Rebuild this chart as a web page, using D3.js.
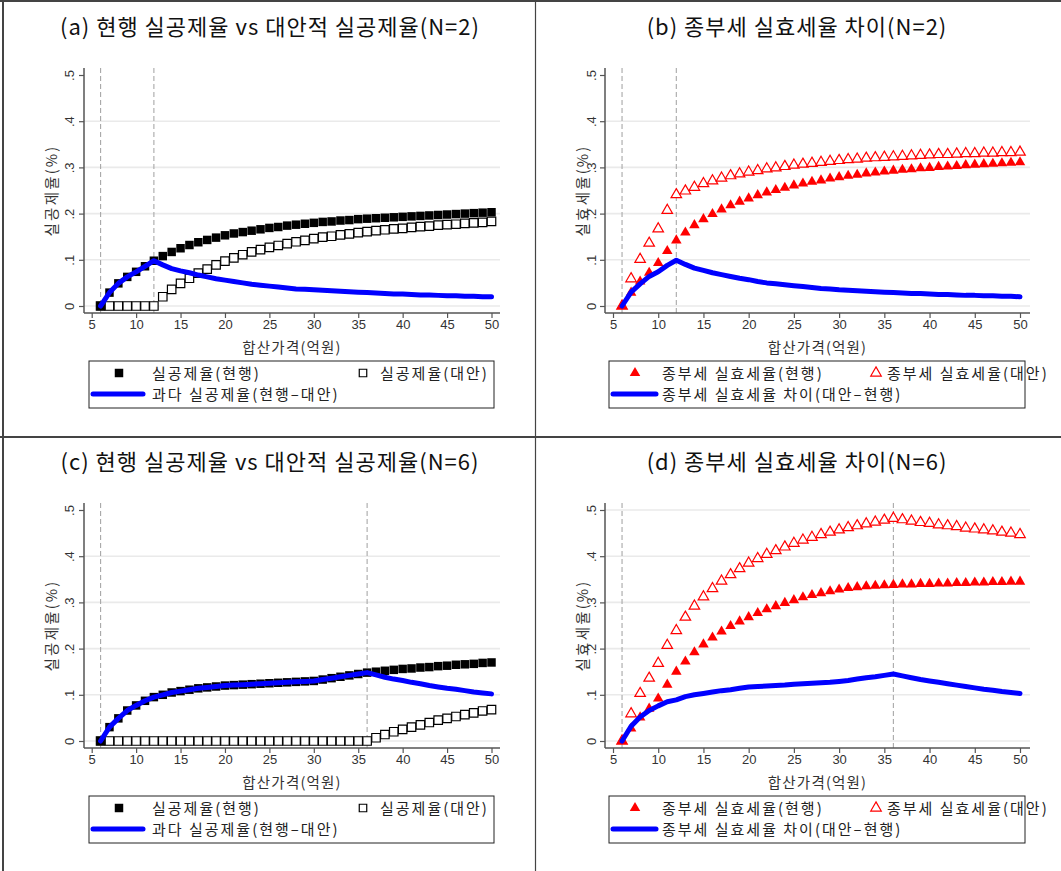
<!DOCTYPE html>
<html>
<head>
<meta charset="utf-8">
<script src="https://cdn.jsdelivr.net/npm/d3@7"></script>
<style>
  html, body { margin: 0; padding: 0; background: #fff; }
  svg { display: block; }
</style>
</head>
<body>
<svg id="fig" width="1061" height="871"></svg>
<script>
// ---- data: 합산가격(억원) grid and series ----
const price = [6,7,8,9,10,11,12,13,14,15,16,17,18,19,20,21,22,23,24,25,26,27,28,
  29,30,31,32,33,34,35,36,37,38,39,40,41,42,43,44,45,46,47,48,49,50];

// N=2: 실공제율
const deductCurN2 = [0,0.029,0.049,0.063,0.074,0.086,0.098,0.108,0.117,0.125,0.132,0.138,0.143,0.148,0.153,
  0.157,0.160,0.163,0.166,0.169,0.171,0.174,0.176,0.178,0.180,0.182,0.183,0.185,0.186,0.188,0.189,
  0.190,0.191,0.192,0.193,0.194,0.195,0.196,0.197,0.198,0.199,0.200,0.201,0.202,0.203];
const deductAltN2 = [0,0,0,0,0,0,0,0.020,0.036,0.049,0.060,0.071,0.080,0.089,0.097,
  0.104,0.111,0.117,0.122,0.127,0.131,0.135,0.139,0.142,0.146,0.149,0.151,0.154,0.156,0.159,0.161,
  0.163,0.165,0.167,0.168,0.170,0.172,0.173,0.175,0.176,0.177,0.179,0.180,0.181,0.183];
const deductExcessN2 = [0,0.029,0.049,0.063,0.074,0.086,0.098,0.089,0.081,0.076,0.072,0.067,0.063,0.059,0.056,
  0.053,0.050,0.047,0.045,0.043,0.041,0.039,0.037,0.036,0.035,0.034,0.033,0.032,0.031,0.030,0.029,
  0.028,0.027,0.026,0.026,0.025,0.024,0.024,0.023,0.022,0.022,0.021,0.021,0.020,0.020];

// N=2: 종부세 실효세율
const taxCurN2 = [0,0.029,0.053,0.072,0.093,0.119,0.142,0.159,0.175,0.188,0.199,0.209,0.218,0.226,0.233,
  0.240,0.246,0.251,0.256,0.261,0.265,0.269,0.272,0.276,0.279,0.282,0.284,0.287,0.289,0.291,0.293,
  0.295,0.296,0.298,0.299,0.301,0.302,0.303,0.305,0.306,0.307,0.308,0.309,0.310,0.311];
const taxAltN2 = [0,0.059,0.101,0.136,0.167,0.207,0.241,0.249,0.257,0.265,0.271,0.277,0.282,0.286,0.290,
  0.293,0.297,0.299,0.302,0.305,0.307,0.309,0.311,0.313,0.315,0.317,0.318,0.320,0.321,0.322,0.323,
  0.324,0.325,0.326,0.327,0.328,0.328,0.329,0.330,0.330,0.331,0.331,0.332,0.332,0.333];
const taxGapN2 = [0,0.030,0.048,0.064,0.074,0.088,0.099,0.090,0.082,0.077,0.072,0.068,0.064,0.060,0.057,
  0.053,0.050,0.048,0.046,0.044,0.042,0.040,0.038,0.037,0.035,0.034,0.033,0.032,0.031,0.030,0.029,
  0.028,0.027,0.027,0.026,0.025,0.025,0.024,0.023,0.023,0.022,0.022,0.021,0.021,0.020];

// N=6: 실공제율
const deductCurN6 = [0,0.030,0.049,0.066,0.077,0.087,0.095,0.100,0.105,0.108,0.111,0.114,0.116,0.118,0.120,
  0.121,0.122,0.123,0.124,0.125,0.126,0.127,0.128,0.129,0.130,0.133,0.136,0.139,0.142,0.145,0.148,
  0.150,0.152,0.154,0.156,0.157,0.159,0.160,0.162,0.163,0.165,0.166,0.167,0.169,0.170];
const deductAltN6 = [0,0,0,0,0,0,0,0,0,0,0,0,0,0,0,
  0,0,0,0,0,0,0,0,0,0,0,0,0,0,0,0,
  0.007,0.014,0.020,0.025,0.030,0.035,0.040,0.045,0.049,0.053,0.057,0.061,0.065,0.068];
const deductExcessN6 = [0,0.030,0.049,0.066,0.077,0.087,0.095,0.100,0.105,0.108,0.111,0.114,0.116,0.118,0.120,
  0.121,0.122,0.123,0.124,0.125,0.126,0.127,0.128,0.129,0.130,0.133,0.136,0.139,0.142,0.145,0.148,
  0.143,0.138,0.134,0.131,0.127,0.124,0.120,0.117,0.114,0.112,0.109,0.106,0.104,0.102];

// N=6: 종부세 실효세율
const taxCurN6 = [0,0.027,0.051,0.070,0.092,0.122,0.150,0.172,0.192,0.209,0.224,0.237,0.249,0.259,0.268,
  0.277,0.285,0.292,0.299,0.305,0.311,0.316,0.320,0.324,0.328,0.331,0.333,0.335,0.336,0.337,0.338,
  0.339,0.339,0.340,0.340,0.341,0.341,0.342,0.342,0.343,0.343,0.344,0.344,0.345,0.345];
const taxAltN6 = [0,0.059,0.103,0.136,0.168,0.207,0.239,0.268,0.292,0.312,0.330,0.346,0.360,0.373,0.385,
  0.395,0.404,0.412,0.420,0.428,0.435,0.441,0.447,0.452,0.457,0.462,0.466,0.470,0.474,0.478,0.482,
  0.479,0.476,0.473,0.471,0.468,0.466,0.464,0.461,0.459,0.457,0.455,0.452,0.450,0.447];
const taxGapN6 = [0,0.032,0.052,0.066,0.076,0.085,0.089,0.096,0.100,0.103,0.106,0.109,0.111,0.114,0.117,
  0.118,0.119,0.120,0.121,0.123,0.124,0.125,0.126,0.127,0.129,0.131,0.134,0.137,0.139,0.142,0.145,
  0.141,0.137,0.133,0.130,0.127,0.124,0.121,0.118,0.115,0.112,0.110,0.107,0.105,0.103];

// axis ticks and labels
const xTicks = [5,10,15,20,25,30,35,40,45,50];
const yTicks = [0,0.1,0.2,0.3,0.4,0.5];
const yTickLabels = ["0",".1",".2",".3",".4",".5"];
const refLinesN2 = [6,12];
const refLinesN6 = [6,36];

// ---- text ----
const xTitle = "합산가격(억원)";
const panels = [
  { title: "(a) 현행 실공제율 vs 대안적 실공제율(N=2)", yTitle: "실공제율(%)", kind: "square",
    cur: deductCurN2, alt: deductAltN2, diff: deductExcessN2, refs: refLinesN2, col: 0, row: 0,
    legend: ["실공제율(현행)", "실공제율(대안)", "과다 실공제율(현행–대안)"], gridTop: false },
  { title: "(b) 종부세 실효세율 차이(N=2)", yTitle: "실효세율(%)", kind: "triangle",
    cur: taxCurN2, alt: taxAltN2, diff: taxGapN2, refs: refLinesN2, col: 1, row: 0,
    legend: ["종부세 실효세율(현행)", "종부세 실효세율(대안)", "종부세 실효세율 차이(대안–현행)"], gridTop: false },
  { title: "(c) 현행 실공제율 vs 대안적 실공제율(N=6)", yTitle: "실공제율(%)", kind: "square",
    cur: deductCurN6, alt: deductAltN6, diff: deductExcessN6, refs: refLinesN6, col: 0, row: 1,
    legend: ["실공제율(현행)", "실공제율(대안)", "과다 실공제율(현행–대안)"], gridTop: false },
  { title: "(d) 종부세 실효세율 차이(N=6)", yTitle: "실효세율(%)", kind: "triangle",
    cur: taxCurN6, alt: taxAltN6, diff: taxGapN6, refs: refLinesN6, col: 1, row: 1,
    legend: ["종부세 실효세율(현행)", "종부세 실효세율(대안)", "종부세 실효세율 차이(대안–현행)"], gridTop: true }
];

// ---- layout ----
const columns = [
  { axisX: 84, x5: 91.7, x50: 491.5, right: 500, tickLabelDx: -10, yTitleX: 57, titleCX: 270,
    lg: { x0: 89, x1: 494, fillX: 119, fillLabelX: 152, openX: 363, openLabelX: 380, lineX0: 93, lineX1: 143, lineLabelX: 152 } },
  { axisX: 605, x5: 613, x50: 1020, right: 1030, tickLabelDx: -9, yTitleX: 588, titleCX: 797,
    lg: { x0: 609, x1: 1025, fillX: 635, fillLabelX: 662, openX: 876, openLabelX: 887, lineX0: 613, lineX1: 656, lineLabelX: 662 } }
];
const rowOffset = [0, 435];
const base = { titleY: 35, plotTop: 68, plotBottom: 313, y0: 306, y5: 75, xTitleY: 353,
  lgTop: 361, lgBottom: 408, lgRow1: 373, lgRow2: 394 };

const KFONT = "'Noto Sans CJK KR', 'Noto Sans', sans-serif";
const NFONT = "'Liberation Sans', Arial, sans-serif";
const BLUE = "#0000ff", RED = "#ff0000";

const svg = d3.select("#fig");
svg.append("rect").attr("width", 1061).attr("height", 871).attr("fill", "#fff");

const squareSym = d3.symbol().type(d3.symbolSquare).size(72);
const triSym = d3.symbol().type(d3.symbolTriangle).size(48);

function drawPanel(p) {
  const c = columns[p.col];
  const dy = rowOffset[p.row];
  const g = svg.append("g").attr("transform", `translate(0,${dy})`);

  const x = d3.scaleLinear().domain([5, 50]).range([c.x5, c.x50]);
  const y = d3.scaleLinear().domain([0, 0.5]).range([base.y0, base.y5]);

  // title
  g.append("text").attr("x", c.titleCX).attr("y", base.titleY)
    .attr("text-anchor", "middle").attr("font-family", KFONT).attr("font-size", 22)
    .attr("letter-spacing", 1).attr("fill", "#111").text(p.title);

  // horizontal grid
  const gridVals = yTicks.filter(v => v < 0.5 || p.gridTop);
  g.append("g").selectAll("line").data(gridVals).join("line")
    .attr("x1", c.axisX).attr("x2", c.right)
    .attr("y1", d => y(d)).attr("y2", d => y(d))
    .attr("stroke", "#eaeaea").attr("stroke-width", 1.6);

  // reference lines
  g.append("g").selectAll("line").data(p.refs).join("line")
    .attr("x1", d => x(d)).attr("x2", d => x(d))
    .attr("y1", base.plotTop).attr("y2", base.plotBottom)
    .attr("stroke", "#a8a8a8").attr("stroke-width", 1.1).attr("stroke-dasharray", "5,3");

  // y axis
  const yAxis = d3.axisLeft(y).tickValues(yTicks).tickSize(5)
    .tickFormat((d, i) => yTickLabels[i]);
  const ya = g.append("g").attr("transform", `translate(${c.axisX},0)`).call(yAxis);
  ya.select(".domain").remove();
  ya.selectAll(".tick line").attr("stroke", "#555").attr("stroke-width", 1.2);
  ya.selectAll(".tick text")
    .attr("transform", "rotate(-90)").attr("x", 0).attr("y", c.tickLabelDx).attr("dy", 0)
    .attr("text-anchor", "middle").attr("font-family", NFONT).attr("font-size", 13).attr("fill", "#333");
  g.append("line").attr("x1", c.axisX).attr("x2", c.axisX)
    .attr("y1", base.plotTop).attr("y2", base.plotBottom)
    .attr("stroke", "#555").attr("stroke-width", 1.5);

  // x axis
  const xAxis = d3.axisBottom(x).tickValues(xTicks).tickSize(5).tickFormat(d3.format("d"));
  const xa = g.append("g").attr("transform", `translate(0,${base.plotBottom})`).call(xAxis);
  xa.select(".domain").remove();
  xa.selectAll(".tick line").attr("stroke", "#555").attr("stroke-width", 1.2);
  xa.selectAll(".tick text").attr("y", 7).attr("dy", "0.71em")
    .attr("font-family", NFONT).attr("font-size", 13).attr("fill", "#333");
  g.append("line").attr("x1", c.axisX).attr("x2", c.right)
    .attr("y1", base.plotBottom).attr("y2", base.plotBottom)
    .attr("stroke", "#555").attr("stroke-width", 1.5);

  // axis titles
  g.append("text").attr("x", (c.axisX + c.right) / 2).attr("y", base.xTitleY)
    .attr("text-anchor", "middle").attr("font-family", KFONT).attr("font-size", 14.5)
    .attr("letter-spacing", 1.2).attr("fill", "#333").text(xTitle);
  g.append("text")
    .attr("transform", `translate(${c.yTitleX},${(base.plotTop + base.plotBottom) / 2}) rotate(-90)`)
    .attr("text-anchor", "middle").attr("font-family", KFONT).attr("font-size", 14.5)
    .attr("letter-spacing", 2.2).attr("fill", "#333").text(p.yTitle);

  const pts = (arr) => price.map((v, i) => ({ x: v, y: arr[i] }));
  const sym = p.kind === "square" ? squareSym : triSym;

  // alternative (open markers)
  g.append("g").selectAll("path").data(pts(p.alt)).join("path")
    .attr("d", sym).attr("transform", d => `translate(${x(d.x)},${y(d.y)})`)
    .attr("fill", "#fff")
    .attr("stroke", p.kind === "square" ? "#000" : RED).attr("stroke-width", 1.2);

  // current (filled markers)
  g.append("g").selectAll("path").data(pts(p.cur)).join("path")
    .attr("d", sym).attr("transform", d => `translate(${x(d.x)},${y(d.y)})`)
    .attr("fill", p.kind === "square" ? "#000" : RED);

  // difference line
  g.append("path").datum(pts(p.diff))
    .attr("d", d3.line().x(d => x(d.x)).y(d => y(d.y)))
    .attr("fill", "none").attr("stroke", BLUE).attr("stroke-width", 5)
    .attr("stroke-linejoin", "round").attr("stroke-linecap", "round");

  // legend
  const L = c.lg;
  g.append("rect").attr("x", L.x0).attr("y", base.lgTop)
    .attr("width", L.x1 - L.x0).attr("height", base.lgBottom - base.lgTop)
    .attr("fill", "#fff").attr("stroke", "#222").attr("stroke-width", 1);
  g.append("path").attr("d", sym).attr("transform", `translate(${L.fillX},${base.lgRow1})`)
    .attr("fill", p.kind === "square" ? "#000" : RED);
  g.append("path").attr("d", p.kind === "square" ? d3.symbol().type(d3.symbolSquare).size(56)() : sym)
    .attr("transform", `translate(${L.openX},${base.lgRow1})`)
    .attr("fill", "#fff").attr("stroke", p.kind === "square" ? "#000" : RED).attr("stroke-width", 1.2);
  g.append("line").attr("x1", L.lineX0).attr("x2", L.lineX1)
    .attr("y1", base.lgRow2).attr("y2", base.lgRow2)
    .attr("stroke", BLUE).attr("stroke-width", 5).attr("stroke-linecap", "round");
  const lgText = (tx, ty, s) => g.append("text").attr("x", tx).attr("y", ty + 5.5)
    .attr("font-family", KFONT).attr("font-size", 15).attr("letter-spacing", 2)
    .attr("fill", "#222").text(s);
  lgText(L.fillLabelX, base.lgRow1, p.legend[0]);
  lgText(L.openLabelX, base.lgRow1, p.legend[1]);
  lgText(L.lineLabelX, base.lgRow2, p.legend[2]);
}

panels.forEach(drawPanel);

// panel frame
const frame = svg.append("g").attr("stroke", "#444").attr("fill", "none");
frame.append("line").attr("x1", 0).attr("x2", 1061).attr("y1", 1).attr("y2", 1).attr("stroke-width", 2);
frame.append("line").attr("x1", 3).attr("x2", 3).attr("y1", 0).attr("y2", 871).attr("stroke-width", 2);
frame.append("line").attr("x1", 535.5).attr("x2", 535.5).attr("y1", 0).attr("y2", 871).attr("stroke-width", 1.2);
frame.append("line").attr("x1", 0).attr("x2", 1061).attr("y1", 437).attr("y2", 437).attr("stroke-width", 2);
</script>
</body>
</html>
